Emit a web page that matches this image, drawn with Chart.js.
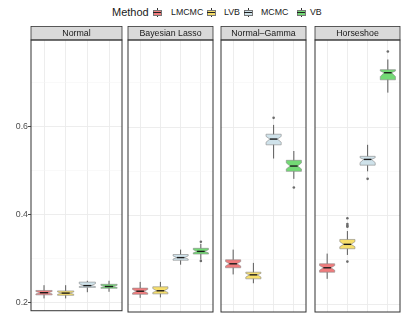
<!DOCTYPE html>
<html>
<head>
<meta charset="utf-8">
<script src="https://cdn.jsdelivr.net/npm/chart.js@4.4.1/dist/chart.umd.min.js"></script>
<style>
  html, body { margin: 0; padding: 0; background: #fff; }
  body { width: 407px; height: 326px; position: relative; overflow: hidden;
         font-family: "Liberation Sans", Arial, sans-serif; }
  canvas { position: absolute; top: 26px; }
  .leg { position: absolute; white-space: nowrap; color: #1a1a1a; line-height: 1; }
  .title { font-size: 11px; top: 7px; }
  .lab { font-size: 8.8px; top: 8px; }
  .key { position: absolute; top: 4px; width: 8px; height: 17px; }
  .key .wh { position: absolute; left: 3.5px; top: 4px; width: 1px; height: 9px; background: #333; }
  .key .bx { position: absolute; left: 0; top: 6px; width: 7px; height: 4px; border: 0.5px solid #777; }
  .key .md { position: absolute; left: 0; top: 8px; width: 8px; height: 1px; background: #222; }
</style>
</head>
<body>

<script>
// ---- data ----
const panels = ["Normal", "Bayesian Lasso", "Normal\u2013Gamma", "Horseshoe"];
const methods = ["LMCMC", "LVB", "MCMC", "VB"];
const colores = ["#F07C7D", "#F6DE6B", "#CFE2EA", "#73D975"];

// one row per panel, one value per method
const whiskLo = [
  [0.210, 0.210, 0.224, 0.225],
  [0.214, 0.215, 0.289, 0.301],
  [0.267, 0.247, 0.529, 0.483],
  [0.257, 0.311, 0.500, 0.678]
];
const q1 = [
  [0.218, 0.217, 0.235, 0.233],
  [0.222, 0.223, 0.299, 0.313],
  [0.282, 0.257, 0.560, 0.500],
  [0.272, 0.325, 0.514, 0.707]
];
const medians = [
  [0.223, 0.222, 0.239, 0.237],
  [0.229, 0.230, 0.305, 0.319],
  [0.291, 0.266, 0.573, 0.512],
  [0.282, 0.335, 0.527, 0.723]
];
const q3 = [
  [0.228, 0.227, 0.247, 0.242],
  [0.236, 0.239, 0.312, 0.326],
  [0.300, 0.272, 0.584, 0.525],
  [0.291, 0.346, 0.534, 0.730]
];
const whiskHi = [
  [0.240, 0.240, 0.250, 0.250],
  [0.250, 0.250, 0.323, 0.336],
  [0.323, 0.293, 0.605, 0.546],
  [0.314, 0.365, 0.560, 0.753]
];
const outliers = [
  [[], [], [], []],
  [[], [], [], [0.341, 0.2975]],
  [[], [], [0.621], [0.4635]],
  [[], [0.394, 0.381, 0.377, 0.375, 0.296], [0.483], [0.771]]
];
const yTicks = [0.2, 0.3, 0.4, 0.5, 0.6, 0.7];

// ---- layout ----
const panelLeft = [31, 125, 218, 312];
const panelW = 91;
const axisW = 31;
const FONT = "'Liberation Sans', Arial, sans-serif";

// legend (html, placed like the ggplot one)
const keyX = [153, 207, 244, 297];
const labX = [171, 224, 261, 310];
function addEl(cls, left, html) {
  const el = document.createElement("div");
  el.className = "leg " + cls;
  el.style.left = left + "px";
  el.innerHTML = html;
  document.body.appendChild(el);
  return el;
}
addEl("title", 112, "Method");
methods.forEach((m, i) => {
  addEl("key", keyX[i], `<span class="wh"></span><span class="bx" style="background:${colores[i]}"></span><span class="md"></span>`);
  addEl("lab", labX[i], m);
});

// strip + border
const marco = {
  id: "marco",
  afterDraw(chart) {
    const { ctx, chartArea: a } = chart;
    const titulo = chart.options.plugins.marco.titulo;
    ctx.save();
    ctx.fillStyle = "#d9d9d9";
    ctx.fillRect(a.left, a.top - 13.5, a.right - a.left, 13.5);
    ctx.strokeStyle = "#333";
    ctx.lineWidth = 0.8;
    ctx.strokeRect(a.left, a.top - 13.5, a.right - a.left, 13.5);
    ctx.fillStyle = "#1a1a1a";
    ctx.font = "8.8px " + FONT;
    ctx.textAlign = "center";
    ctx.textBaseline = "middle";
    ctx.fillText(titulo, (a.left + a.right) / 2, a.top - 6.5);
    ctx.strokeStyle = "#333";
    ctx.lineWidth = 1;
    ctx.strokeRect(a.left, a.top, a.right - a.left, a.bottom - a.top);
    ctx.restore();
  }
};

// notched boxes
const cajas = {
  id: "cajas",
  afterDatasetsDraw(chart) {
    const p = chart.options.plugins.cajas.panel;
    const { ctx } = chart;
    const xs = chart.scales.x, ys = chart.scales.y;
    ctx.save();
    methods.forEach((m, j) => {
      const xc = xs.getPixelForValue(j + 1);
      const hw = xs.getPixelForValue(j + 1.375) - xc;
      const ind = hw * 0.5;
      const yLo = ys.getPixelForValue(whiskLo[p][j]);
      const yHi = ys.getPixelForValue(whiskHi[p][j]);
      const y1 = ys.getPixelForValue(q1[p][j]);
      const y3 = ys.getPixelForValue(q3[p][j]);
      const ym = ys.getPixelForValue(medians[p][j]);
      const n1 = ym + (y1 - ym) * 0.55;
      const n3 = ym + (y3 - ym) * 0.55;
      // whisker
      ctx.strokeStyle = "#333";
      ctx.lineWidth = 0.8;
      ctx.beginPath();
      ctx.moveTo(xc, yLo); ctx.lineTo(xc, yHi);
      ctx.stroke();
      // box
      ctx.beginPath();
      ctx.moveTo(xc - hw, y1);
      ctx.lineTo(xc - hw, n1);
      ctx.lineTo(xc - hw + ind, ym);
      ctx.lineTo(xc - hw, n3);
      ctx.lineTo(xc - hw, y3);
      ctx.lineTo(xc + hw, y3);
      ctx.lineTo(xc + hw, n3);
      ctx.lineTo(xc + hw - ind, ym);
      ctx.lineTo(xc + hw, n1);
      ctx.lineTo(xc + hw, y1);
      ctx.closePath();
      ctx.fillStyle = colores[j];
      ctx.fill();
      ctx.strokeStyle = "#8a8a8a";
      ctx.lineWidth = 0.6;
      ctx.stroke();
      // median
      ctx.strokeStyle = "#1a1a1a";
      ctx.lineWidth = 1.4;
      ctx.beginPath();
      ctx.moveTo(xc - hw + ind, ym); ctx.lineTo(xc + hw - ind, ym);
      ctx.stroke();
    });
    ctx.restore();
  }
};

panels.forEach((nombre, p) => {
  const cv = document.createElement("canvas");
  const primero = p === 0;
  const left = primero ? 0 : panelLeft[p] - 1;
  const width = primero ? panelLeft[0] + panelW + 1 : panelW + 2;
  cv.width = width; cv.height = 290;
  cv.style.left = left + "px";
  cv.style.width = width + "px"; cv.style.height = "290px";
  document.body.appendChild(cv);

  const puntos = [];
  outliers[p].forEach((lista, j) => lista.forEach(v => puntos.push({ x: j + 1, y: v })));

  new Chart(cv, {
    type: "scatter",
    data: {
      datasets: [{
        data: puntos,
        pointRadius: 1.3,
        pointBackgroundColor: "#6b6b6b",
        pointBorderWidth: 0
      }]
    },
    options: {
      responsive: false,
      animation: false,
      devicePixelRatio: 1,
      layout: { padding: { top: 14, bottom: 2, left: primero ? 0 : 1, right: 1 } },
      plugins: {
        legend: { display: false },
        tooltip: { enabled: false },
        marco: { titulo: nombre },
        cajas: { panel: p }
      },
      scales: {
        x: {
          type: "linear", min: 0.4, max: 4.6,
          afterBuildTicks: s => { s.ticks = [1, 2, 3, 4].map(v => ({ value: v })); },
          afterFit: s => { s.height = 0; },
          ticks: { display: false },
          border: { display: false },
          grid: { color: "#ebebeb", lineWidth: 0.9, drawTicks: false }
        },
        y: {
          type: "linear", min: 0.182, max: 0.797,
          afterBuildTicks: s => { s.ticks = yTicks.map(v => ({ value: v })); },
          afterFit: s => { s.width = primero ? axisW : 0; },
          border: { display: false },
          ticks: {
            display: primero,
            padding: 0,
            color: "#4d4d4d",
            font: { size: 8.8, family: FONT },
            callback: v => (Math.round(v * 10) % 2 === 0 ? v.toFixed(1) : "")
          },
          grid: {
            color: c => (Math.round(c.tick.value * 10) % 2 === 0 ? "#ebebeb" : "#f5f5f5"),
            lineWidth: c => (Math.round(c.tick.value * 10) % 2 === 0 ? 0.9 : 0.6),
            drawTicks: primero,
            tickLength: 3,
            tickColor: c => (Math.round(c.tick.value * 10) % 2 === 0 ? "#333" : "rgba(0,0,0,0)")
          }
        }
      }
    },
    plugins: [cajas, marco]
  });
});
</script>
</body>
</html>
